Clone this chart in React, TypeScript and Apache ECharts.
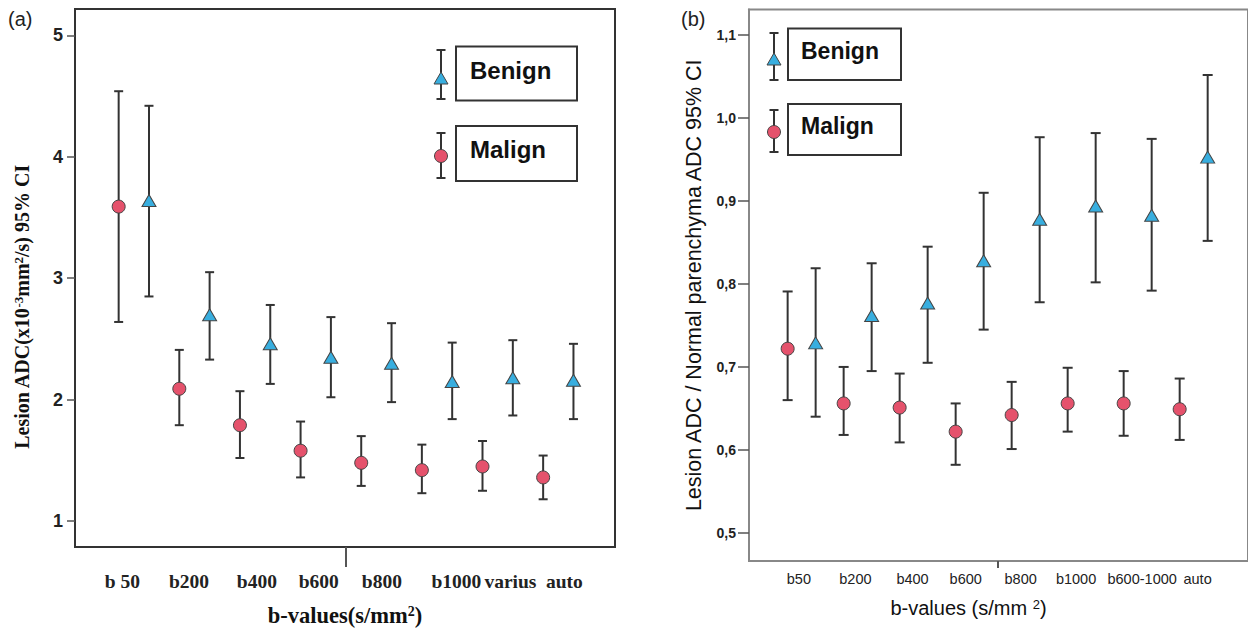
import React, { useEffect, useRef } from "react";
import * as echarts from "echarts";

// ---------- Data ----------
const categoriesA = ["b 50", "b200", "b400", "b600", "b800", "b1000", "varius", "auto"];
const benignMeanA = [3.64, 2.70, 2.46, 2.35, 2.30, 2.15, 2.18, 2.16];
const benignLowA = [2.85, 2.33, 2.13, 2.02, 1.98, 1.84, 1.87, 1.84];
const benignHighA = [4.42, 3.05, 2.78, 2.68, 2.63, 2.47, 2.49, 2.46];
const malignMeanA = [3.59, 2.09, 1.79, 1.58, 1.48, 1.42, 1.45, 1.36];
const malignLowA = [2.64, 1.79, 1.52, 1.36, 1.29, 1.23, 1.25, 1.18];
const malignHighA = [4.54, 2.41, 2.07, 1.82, 1.70, 1.63, 1.66, 1.54];
const yTicksA = [1, 2, 3, 4, 5];

const categoriesB = ["b50", "b200", "b400", "b600", "b800", "b1000", "b600-1000", "auto"];
const benignMeanB = [0.729, 0.762, 0.777, 0.828, 0.878, 0.894, 0.883, 0.953];
const benignLowB = [0.640, 0.695, 0.705, 0.745, 0.778, 0.802, 0.792, 0.852];
const benignHighB = [0.819, 0.825, 0.845, 0.910, 0.977, 0.982, 0.975, 1.052];
const malignMeanB = [0.722, 0.656, 0.651, 0.622, 0.642, 0.656, 0.656, 0.649];
const malignLowB = [0.660, 0.618, 0.609, 0.582, 0.601, 0.622, 0.617, 0.612];
const malignHighB = [0.791, 0.700, 0.692, 0.656, 0.682, 0.699, 0.695, 0.686];
const yTicksB = [0.5, 0.6, 0.7, 0.8, 0.9, 1.0, 1.1];

// ---------- Layout (not data) ----------
const labelShiftA = [-0.19, -0.09, 0.03, 0.05, 0.09, 0.32, 0.21, 0.1];
const labelShiftB = [-0.05, -0.04, -0.02, -0.07, -0.09, -0.1, 0.08, 0.07];
const pairOffset = 0.25;
const SERIF = "'Liberation Serif', 'Times New Roman', serif";
const SANS = "'Liberation Sans', Arial, sans-serif";
const BLUE = "#38AEDF";
const RED = "#E5526C";
const DARK = "#333333";

function errRender(color: string, cap: number, lw: number) {
  return (params: any, api: any) => {
    const x = api.value(0);
    const p1 = api.coord([x, api.value(2)]);
    const p2 = api.coord([x, api.value(1)]);
    const st = { stroke: color, lineWidth: lw };
    return {
      type: "group",
      children: [
        { type: "line", shape: { x1: p1[0], y1: p1[1], x2: p2[0], y2: p2[1] }, style: st },
        { type: "line", shape: { x1: p1[0] - cap, y1: p1[1], x2: p1[0] + cap, y2: p1[1] }, style: st },
        { type: "line", shape: { x1: p2[0] - cap, y1: p2[1], x2: p2[0] + cap, y2: p2[1] }, style: st },
      ],
    };
  };
}

function legendGraphics(
  ix: number, bx: number, bw: number, tx: number, font: number,
  b: { top: number; bot: number; mk: number; bt: number; bh: number; ty: number },
  m: { top: number; bot: number; mk: number; bt: number; bh: number; ty: number },
  lineColor: string
) {
  const st = { stroke: lineColor, lineWidth: 2 };
  const cap = 4.5;
  const bar = (top: number, bot: number) => [
    { type: "line", shape: { x1: ix, y1: top, x2: ix, y2: bot }, style: st },
    { type: "line", shape: { x1: ix - cap, y1: top, x2: ix + cap, y2: top }, style: st },
    { type: "line", shape: { x1: ix - cap, y1: bot, x2: ix + cap, y2: bot }, style: st },
  ];
  return [
    ...bar(b.top, b.bot),
    {
      type: "polygon",
      shape: { points: [[ix - 7, b.mk + 6], [ix + 7, b.mk + 6], [ix, b.mk - 6]] },
      style: { fill: BLUE, stroke: "#444", lineWidth: 1 },
    },
    { type: "rect", shape: { x: bx, y: b.bt, width: bw, height: b.bh }, style: { fill: "none", stroke: lineColor, lineWidth: 2 } },
    { type: "text", x: tx, y: b.ty, style: { text: "Benign", font: `bold ${font}px ${SANS}`, fill: "#111", verticalAlign: "middle" } },
    ...bar(m.top, m.bot),
    { type: "circle", shape: { cx: ix, cy: m.mk, r: 6.5 }, style: { fill: RED, stroke: "#444", lineWidth: 1 } },
    { type: "rect", shape: { x: bx, y: m.bt, width: bw, height: m.bh }, style: { fill: "none", stroke: lineColor, lineWidth: 2 } },
    { type: "text", x: tx, y: m.ty, style: { text: "Malign", font: `bold ${font}px ${SANS}`, fill: "#111", verticalAlign: "middle" } },
  ];
}

export default function App() {
  const ref = useRef<HTMLDivElement>(null);

  useEffect(() => {
    if (!ref.current) return;
    const chart = echarts.init(ref.current, undefined, { renderer: "svg" });

    const labelPosA = categoriesA.map((_, i) => i + labelShiftA[i]);
    const labelPosB = categoriesB.map((_, i) => i + labelShiftB[i]);
    const findLabel = (pos: number[], cats: string[]) => (v: number) => {
      const k = pos.findIndex((p) => Math.abs(p - v) < 1e-6);
      return k >= 0 ? cats[k] : "";
    };

    const supStyle = (size: number, family: string, weight: string) => ({
      fontSize: size,
      fontFamily: family,
      fontWeight: weight,
      verticalAlign: "top",
      color: "#111",
    });

    const option: any = {
      animation: false,
      backgroundColor: "#ffffff",
      grid: [
        { left: 75, top: 9, width: 540, height: 542, show: true, borderColor: DARK, borderWidth: 2 },
        { left: 749, top: 9.5, width: 505, height: 551.5, show: true, borderColor: "#888", borderWidth: 2 },
      ],
      xAxis: [
        {
          type: "value",
          gridIndex: 0,
          min: -0.97,
          max: 7.935,
          splitLine: { show: false },
          axisLine: { show: true, onZero: false, lineStyle: { color: DARK, width: 2 } },
          axisTick: { show: true, customValues: [3.5], length: 20, lineStyle: { color: "#555", width: 2 } },
          axisLabel: {
            customValues: labelPosA,
            formatter: findLabel(labelPosA, categoriesA),
            margin: 24,
            fontFamily: SERIF,
            fontWeight: "bold",
            fontSize: 19.5,
            color: "#222",
          },
          name: "b-values(s/mm{sup|2})",
          nameLocation: "middle",
          nameGap: 57,
          nameTextStyle: {
            fontFamily: SERIF,
            fontWeight: "bold",
            fontSize: 22.5,
            color: "#111",
            rich: { sup: supStyle(14, SERIF, "bold") },
          },
        },
        {
          type: "value",
          gridIndex: 1,
          min: -0.94,
          max: 7.97,
          splitLine: { show: false },
          axisLine: { show: true, onZero: false, lineStyle: { color: "#888", width: 2 } },
          axisTick: { show: true, customValues: [3.5], length: 7, lineStyle: { color: "#555", width: 2 } },
          axisLabel: {
            customValues: labelPosB,
            formatter: findLabel(labelPosB, categoriesB),
            margin: 10,
            fontFamily: SANS,
            fontSize: 14.5,
            color: "#222",
          },
          name: "b-values (s/mm {sup|2})",
          nameLocation: "middle",
          nameGap: 37,
          nameTextStyle: {
            fontFamily: SANS,
            fontSize: 20,
            color: "#111",
            padding: [0, 60, 0, 0],
            rich: { sup: supStyle(13, SANS, "normal") },
          },
        },
      ],
      yAxis: [
        {
          type: "value",
          gridIndex: 0,
          min: 0.787,
          max: 5.217,
          splitLine: { show: false },
          axisLine: { show: true, onZero: false, lineStyle: { color: DARK, width: 2 } },
          axisTick: { show: true, customValues: yTicksA, length: 8, lineStyle: { color: "#555", width: 1.5 } },
          axisLabel: {
            customValues: yTicksA,
            formatter: (v: number) => String(v),
            margin: 12,
            fontFamily: SANS,
            fontWeight: "bold",
            fontSize: 18,
            color: "#222",
          },
          name: "Lesion ADC(x10{sup|-3}mm{sup|2}/s) 95% CI",
          nameLocation: "middle",
          nameGap: 43,
          nameRotate: 90,
          nameTextStyle: {
            fontFamily: SERIF,
            fontWeight: "bold",
            fontSize: 20,
            color: "#111",
            padding: [0, 58, 0, 0],
            rich: { sup: supStyle(13, SERIF, "bold") },
          },
        },
        {
          type: "value",
          gridIndex: 1,
          min: 0.466,
          max: 1.131,
          splitLine: { show: false },
          axisLine: { show: true, onZero: false, lineStyle: { color: "#888", width: 2 } },
          axisTick: { show: true, customValues: yTicksB, length: 11, lineStyle: { color: "#555", width: 1.5 } },
          axisLabel: {
            customValues: yTicksB,
            formatter: (v: number) => v.toFixed(1).replace(".", ","),
            margin: 13,
            fontFamily: SANS,
            fontWeight: "bold",
            fontSize: 14,
            color: "#222",
          },
          name: "Lesion ADC / Normal parenchyma ADC 95% CI",
          nameLocation: "middle",
          nameGap: 44,
          nameRotate: 90,
          nameTextStyle: { fontFamily: SANS, fontSize: 21.5, color: "#111" },
        },
      ],
      series: [
        {
          type: "custom",
          name: "Benign CI (a)",
          xAxisIndex: 0,
          yAxisIndex: 0,
          renderItem: errRender(DARK, 4.5, 2),
          encode: { x: 0, y: [1, 2] },
          data: categoriesA.map((_, i) => [i + pairOffset, benignLowA[i], benignHighA[i]]),
          z: 2,
        },
        {
          type: "custom",
          name: "Malign CI (a)",
          xAxisIndex: 0,
          yAxisIndex: 0,
          renderItem: errRender(DARK, 4.5, 2),
          encode: { x: 0, y: [1, 2] },
          data: categoriesA.map((_, i) => [i - pairOffset, malignLowA[i], malignHighA[i]]),
          z: 2,
        },
        {
          type: "scatter",
          name: "Benign (a)",
          xAxisIndex: 0,
          yAxisIndex: 0,
          symbol: "triangle",
          symbolSize: [14, 12],
          itemStyle: { color: BLUE, borderColor: "#444", borderWidth: 1, opacity: 1 },
          data: benignMeanA.map((v, i) => [i + pairOffset, v]),
          z: 5,
        },
        {
          type: "scatter",
          name: "Malign (a)",
          xAxisIndex: 0,
          yAxisIndex: 0,
          symbol: "circle",
          symbolSize: 13,
          itemStyle: { color: RED, borderColor: "#444", borderWidth: 1, opacity: 1 },
          data: malignMeanA.map((v, i) => [i - pairOffset, v]),
          z: 5,
        },
        {
          type: "custom",
          name: "Benign CI (b)",
          xAxisIndex: 1,
          yAxisIndex: 1,
          renderItem: errRender(DARK, 5, 2),
          encode: { x: 0, y: [1, 2] },
          data: categoriesB.map((_, i) => [i + pairOffset, benignLowB[i], benignHighB[i]]),
          z: 2,
        },
        {
          type: "custom",
          name: "Malign CI (b)",
          xAxisIndex: 1,
          yAxisIndex: 1,
          renderItem: errRender(DARK, 5, 2),
          encode: { x: 0, y: [1, 2] },
          data: categoriesB.map((_, i) => [i - pairOffset, malignLowB[i], malignHighB[i]]),
          z: 2,
        },
        {
          type: "scatter",
          name: "Benign (b)",
          xAxisIndex: 1,
          yAxisIndex: 1,
          symbol: "triangle",
          symbolSize: [14, 12],
          itemStyle: { color: BLUE, borderColor: "#444", borderWidth: 1, opacity: 1 },
          data: benignMeanB.map((v, i) => [i + pairOffset, v]),
          z: 5,
        },
        {
          type: "scatter",
          name: "Malign (b)",
          xAxisIndex: 1,
          yAxisIndex: 1,
          symbol: "circle",
          symbolSize: 13,
          itemStyle: { color: RED, borderColor: "#444", borderWidth: 1, opacity: 1 },
          data: malignMeanB.map((v, i) => [i - pairOffset, v]),
          z: 5,
        },
      ],
      graphic: [
        { type: "text", left: 8, top: 9, style: { text: "(a)", font: `20px ${SANS}`, fill: "#222" } },
        { type: "text", left: 681, top: 9, style: { text: "(b)", font: `20px ${SANS}`, fill: "#222" } },
        ...legendGraphics(
          441, 456, 121, 470, 24,
          { top: 50, bot: 99, mk: 78, bt: 46.5, bh: 54, ty: 70 },
          { top: 133, bot: 178, mk: 156, bt: 126, bh: 55, ty: 149 },
          DARK
        ),
        ...legendGraphics(
          774, 788, 113, 801, 23,
          { top: 33, bot: 80, mk: 59, bt: 28.5, bh: 51.5, ty: 51 },
          { top: 110, bot: 152, mk: 132, bt: 104, bh: 51, ty: 126 },
          DARK
        ),
      ],
    };

    chart.setOption(option);
    return () => chart.dispose();
  }, []);

  return (
    <div
      ref={ref}
      style={{ position: "absolute", left: 0, top: 0, width: 1248, height: 632, background: "#fff" }}
    />
  );
}
